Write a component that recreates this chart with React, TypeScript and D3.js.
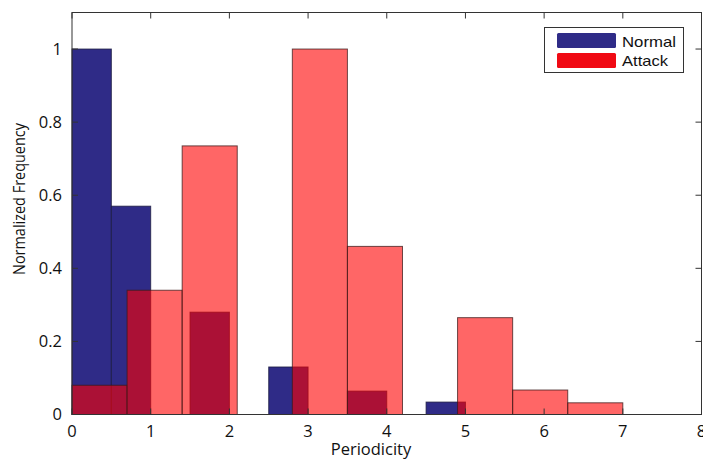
import React from "react";
import * as d3 from "d3";

const normalBinWidth = 0.5;
const normalValues = [1.0, 0.57, 0, 0.28, 0, 0.13, 0, 0.064, 0, 0.034];
const attackBinWidth = 0.7;
const attackValues = [0.08, 0.34, 0.735, 0, 1.0, 0.46, 0, 0.265, 0.067, 0.032];
const xTicks = [0, 1, 2, 3, 4, 5, 6, 7, 8];
const yTicks = [0, 0.2, 0.4, 0.6, 0.8, 1];
const yTickLabels = ["0", "0.2", "0.4", "0.6", "0.8", "1"];
const legendLabels = ["Normal", "Attack"];
const legendTextWidths = [54, 46];

const W = 703;
const H = 459;
const M = { left: 72, right: 701.5, top: 12.5, bottom: 414.5 };

const NORMAL = "#2f2b87";
const ATTACK = "rgba(255,0,0,0.6)";
const tickFont = "'Open Sans', 'Noto Sans', sans-serif";

export default function App() {
  const x = d3.scaleLinear().domain([0, 8]).range([M.left, M.right]);
  const y = d3.scaleLinear().domain([0, 1.1]).range([M.bottom, M.top]);

  const normalBars = normalValues.map((v, i) => ({ x0: i * normalBinWidth, x1: (i + 1) * normalBinWidth, v }));
  const attackBars = attackValues.map((v, i) => ({ x0: i * attackBinWidth, x1: (i + 1) * attackBinWidth, v }));

  const tl = 6;
  return (
    <svg width={W} height={H} style={{ position: "absolute", left: 0, top: 0, background: "#fff" }}>
      {normalBars.filter(b => b.v > 0).map((b, i) => (
        <rect key={"n" + i} x={x(b.x0)} y={y(b.v)} width={x(b.x1) - x(b.x0)} height={y(0) - y(b.v)}
          fill={NORMAL} stroke="#1a1a40" strokeOpacity={0.8} strokeWidth={1} />
      ))}
      {attackBars.filter(b => b.v > 0).map((b, i) => (
        <rect key={"a" + i} x={x(b.x0)} y={y(b.v)} width={x(b.x1) - x(b.x0)} height={y(0) - y(b.v)}
          fill={ATTACK} stroke="#3a1a1a" strokeOpacity={0.75} strokeWidth={1} />
      ))}
      <rect x={M.left} y={M.top} width={M.right - M.left} height={M.bottom - M.top} fill="none" stroke="#333" strokeWidth={1} />
      {xTicks.map(t => (
        <g key={"xt" + t}>
          <line x1={x(t)} x2={x(t)} y1={M.bottom} y2={M.bottom - tl} stroke="#333" />
          <line x1={x(t)} x2={x(t)} y1={M.top} y2={M.top + tl} stroke="#333" />
          <text x={x(t)} y={437} textAnchor="middle" fontSize={16.5} fontFamily={tickFont} fill="#111">{t}</text>
        </g>
      ))}
      {yTicks.map((t, i) => (
        <g key={"yt" + t}>
          <line x1={M.left} x2={M.left + tl} y1={y(t)} y2={y(t)} stroke="#333" />
          <line x1={M.right} x2={M.right - tl} y1={y(t)} y2={y(t)} stroke="#333" />
          <text x={62} y={y(t)} dy="0.36em" textAnchor="end" fontSize={16.5} fontFamily={tickFont} fill="#111">{yTickLabels[i]}</text>
        </g>
      ))}
      <text x={371} y={455} textAnchor="middle" fontSize={16.5} fontFamily={tickFont} fill="#111">Periodicity</text>
      <text transform={`translate(25,199) rotate(-90)`} textAnchor="middle" fontSize={15.5}
        fontFamily="'Liberation Sans Narrow', 'Open Sans', sans-serif" fill="#111"
        textLength={152} lengthAdjust="spacingAndGlyphs">Normalized Frequency</text>
      <rect x={544.5} y={27.5} width={139} height={45} fill="#fff" stroke="#333" strokeWidth={1} />
      {legendLabels.map((l, i) => (
        <g key={l}>
          <rect x={557} y={33 + i * 20} width={59} height={15} rx={1.5} fill={i === 0 ? NORMAL : "#f00a14"} />
          <text x={622} y={47 + i * 18.5} fontSize={14.5} fontFamily="'Liberation Sans', Arial, sans-serif" fill="#111"
            textLength={legendTextWidths[i]} lengthAdjust="spacingAndGlyphs">{l}</text>
        </g>
      ))}
    </svg>
  );
}
